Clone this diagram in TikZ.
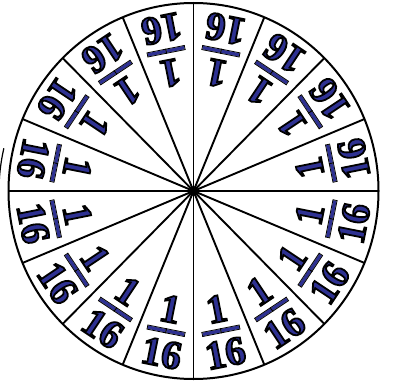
\documentclass[tikz,border=0pt]{standalone}
\usepackage{fontspec}
\setmainfont{Liberation Serif}
\definecolor{navy}{RGB}{46,49,146}
\tikzset{
  frac/.style={inner sep=0pt, outer sep=0pt, transform shape, font=\fontsize{40}{40}\selectfont\bfseries},
  spoke/.style={line width=1.9pt, black},
  rim/.style={line width=2pt, black}
}
\newcommand{\navyd}[1]{\textcolor{navy}{\special{pdf:literal direct 0 0 0 RG 2 Tr 1.8 w}#1\special{pdf:literal direct 0 Tr}}}
\newcommand{\barhalf}{{\setlength{\fboxsep}{0pt}\setlength{\fboxrule}{0.8pt}\fcolorbox{black}{navy}{\rule{0pt}{3.4pt}\hspace{18.2pt}}}}
\newcommand{\sixteenth}{\vbox{\offinterlineskip
  \hbox to 42pt{\hss\navyd{1}\hss}\kern6.5pt
  \hbox to 42pt{\hss\barhalf\kern-0.8pt\barhalf\hss}\kern7pt
  \hbox to 42pt{\hss\navyd{16}\hss}}}
\begin{document}
\begin{tikzpicture}[x=1pt,y=1pt]
\useasboundingbox (0,0) rectangle (393,381);
\fill[white] (0,0) rectangle (393,381);
\coordinate (C) at (193.5,190);
\foreach \i in {0,...,15}{
  \pgfmathsetmacro{\a}{22.5*\i}
  \coordinate (e\i) at ([shift={(\a:185 and 188)}]C);
  \draw[spoke] (C) -- (e\i);
}
\draw[rim] (C) ellipse [x radius=185, y radius=188];
\fill (C) circle (5);
\draw[line width=1.2pt] ([shift={(167:190)}]189,190) arc[start angle=167, end angle=182, radius=190];
\foreach \i in {0,...,15}{
  \pgfmathsetmacro{\t}{11.25+22.5*\i}
  \pgfmathsetmacro{\r}{\t+90}
  \begin{scope}[shift={(C)}, shift={(\t:141 and 143)}, rotate=\r]
    \node[frac] (f\i) at (0,0) {\sixteenth};
  \end{scope}
}
\end{tikzpicture}
\end{document}
